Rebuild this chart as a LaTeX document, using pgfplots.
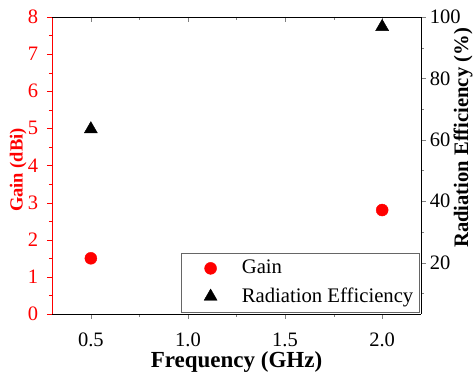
\documentclass[border=0pt]{standalone}
\usepackage{fontspec}
\setmainfont{Liberation Serif}
\usepackage{pgfplots}
\pgfplotsset{compat=1.18}
\begin{document}
\fontsize{20}{24}\selectfont
\begin{tikzpicture}
\useasboundingbox (-52pt,-60pt) rectangle (421pt,314pt);
\pgfplotsset{
 base/.style={scale only axis, width=369pt, height=297pt, at={(0pt,0pt)}, anchor=south west,
   xmin=0.3, xmax=2.2,
   /pgf/number format/assume math mode=true,
   tick label style={font=\fontsize{20.5}{24}\selectfont},
   major tick length=5pt, minor tick length=3pt,
   axis line style={-}},
}
% gain axis (left + bottom)
\begin{axis}[base, ymin=0, ymax=8,
  axis y line*=left, axis x line*=bottom, tick align=outside,
  xtick={0.5,1,1.5,2}, minor xtick={0.75,1.25,1.75},
  ytick={0,1,...,8}, minor ytick={0.5,1.5,...,7.5},
  xticklabel style={inner sep=1pt, yshift=-13pt, /pgf/number format/.cd, fixed, fixed zerofill, precision=1},
  yticklabel style={xshift=-2pt},
  y axis line style={red}, ytick style={red}, yticklabel style={red},
  ylabel={Gain (dBi)},
  every axis y label/.style={at={(axis description cs:-0.092,0.485)}, rotate=90, anchor=center,
     font=\fontsize{18.5}{22}\selectfont\bfseries, text=red},
  xlabel={Frequency (GHz)},
  every axis x label/.style={at={(axis description cs:0.5,-0.1616)}, anchor=center, inner sep=1pt,
     font=\fontsize{23}{27}\selectfont\bfseries}]
\addplot[only marks, mark=*, mark size=6pt, color=red] coordinates {(0.5,1.5) (2.0,2.8)};
\end{axis}
% top axis, ticks inside
\begin{axis}[base, ymin=0, ymax=8,
  axis x line*=top, axis y line=none, tick align=inside,
  xtick={0.5,1,1.5,2}, minor xtick={0.75,1.25,1.75}, xticklabels={}]
\end{axis}
% efficiency axis (right)
\begin{axis}[base, ymin=3.3, ymax=100,
  axis y line*=right, axis x line=none, tick align=outside,
  ytick={20,40,60,80,100}, minor ytick={10,30,50,70,90},
  yticklabel style={xshift=-3pt},
  ylabel={Radiation Efficiency (\%)},
  every axis y label/.style={at={(axis description cs:1.1274,0.5926)}, rotate=90, anchor=base,
     font=\fontsize{20.6}{24}\selectfont\bfseries},
  legend style={at={(1,0)}, anchor=south east, xshift=-1.5pt, yshift=1.5pt,
    draw=black!60, font=\fontsize{20.7}{24}\selectfont, inner xsep=4pt, inner ysep=5pt,
    row sep=7pt, cells={anchor=west}},
  legend image code/.code={\path (-25pt,0pt) (29pt,0pt); \draw[#1] plot coordinates {(0pt,0pt)};}]
\addlegendimage{only marks, mark=*, mark size=6pt, color=red}
\addlegendentry{Gain}
\addplot[only marks, mark=triangle*, mark size=7.5pt, color=black] coordinates {(0.5,63.5) (2.0,96.8)};
\addlegendentry{Radiation Efficiency}
\end{axis}
\end{tikzpicture}
\end{document}
